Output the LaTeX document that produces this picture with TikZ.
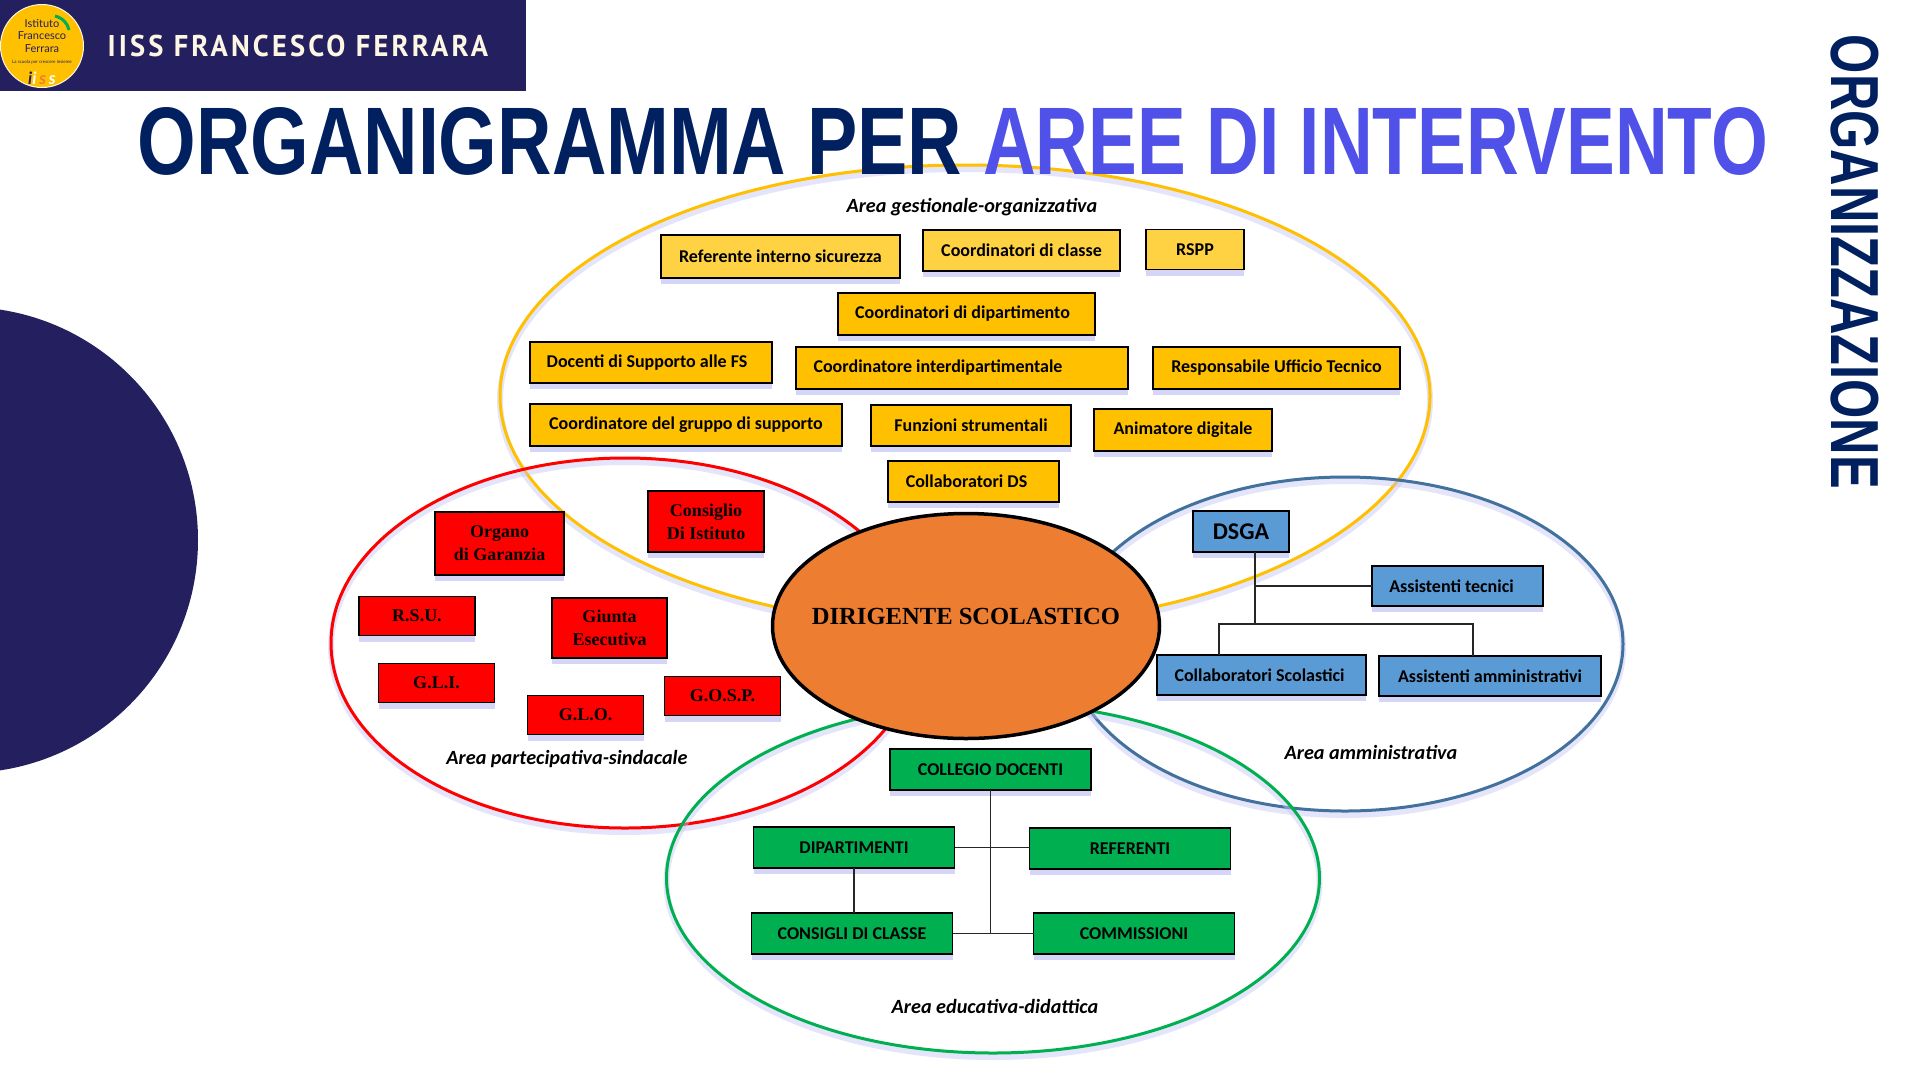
\documentclass[tikz,border=0pt]{standalone}
\usepackage{fontspec}
\setmainfont{Carlito}
\newfontfamily\serifface{Liberation Serif}
\newfontfamily\titleface[FakeStretch=0.785]{Liberation Sans}
\newfontfamily\titleblueface[FakeStretch=0.761]{Liberation Sans}
\newfontfamily\sideface[FakeStretch=0.742]{Liberation Sans}
\newfontfamily\headface[FakeStretch=0.95,LetterSpace=10.5]{PT Sans}
\newfontfamily\logoface{Lato}
\usetikzlibrary{positioning, shapes.geometric, shadows}
\definecolor{headnavy}{HTML}{241F5F}
\definecolor{titlenavy}{HTML}{002060}
\definecolor{titleblue}{HTML}{4F51E8}
\definecolor{gold}{HTML}{FFC000}
\definecolor{palegold}{HTML}{FFD243}
\definecolor{skyblue}{HTML}{5B9BD5}
\definecolor{steelline}{HTML}{41719C}
\definecolor{leaf}{HTML}{00B050}
\definecolor{dirorange}{HTML}{ED7D31}
\definecolor{glow}{HTML}{C4C6F4}
\definecolor{cream}{HTML}{FDF6E3}
\begin{document}
\begin{tikzpicture}[
  x=1pt, y=-1pt,
  font=\fontsize{18}{20}\selectfont\bfseries,
  node distance=20pt,
  arealoop/.style={draw, ellipse, line width=3pt, inner sep=0pt, preaction={draw=glow, line width=6pt, opacity=.45, transform canvas={yshift=-4pt}}},
  arealabel/.style={font=\fontsize{20.2}{22}\selectfont\bfseries\itshape},
  card/.style={draw=black, line width=1.6pt, inner sep=0pt, outer sep=0pt, align=center, drop shadow={shadow xshift=0pt, shadow yshift=-6pt, fill=glow, opacity=.7}},
  boxsize/.style 2 args={minimum width=#1pt, minimum height=#2pt},
  goldcard/.style={card, fill=gold},
  palecard/.style={card, fill=palegold},
  redcard/.style={card, fill=red, boxsize={116}{39}, font=\fontsize{18}{23}\selectfont\serifface\bfseries},
  bluecard/.style={card, fill=skyblue},
  greencard/.style={card, fill=leaf, boxsize={201}{41}},
  link/.style={draw=black!85, line width=1.6pt}
]
\clip (0,0) rectangle (1920,1080);
\useasboundingbox (0,0) rectangle (1920,1080);
\fill[white] (0,0) rectangle (1920,1080);

\node[circle, fill=headnavy, minimum size=466pt, inner sep=0pt] (disc) at (-35,540) {};
\node[fill=headnavy, minimum width=526pt, minimum height=91pt, inner sep=0pt, anchor=north west] (banner) at (0,0) {};
\node[circle, fill=gold, draw=cream, line width=1pt, minimum size=83pt, inner sep=0pt] (logo) at (42,46) {};
\node[font=\fontsize{11}{12.5}\selectfont\logoface, align=center, text=headnavy] (logotext) at (42,36) {Istituto\\Francesco\\Ferrara};
\node[font=\fontsize{4.5}{5}\selectfont\logoface, text=headnavy, below=1pt of logotext] (logomotto) {La scuola per crescere insieme};
\node[font=\fontsize{17}{17}\selectfont\logoface\bfseries\itshape, below=0pt of logomotto] (logomark) {\textcolor{headnavy}{i}\textcolor{white}{i}\,\textcolor{dirorange}{s}\,\textcolor{white}{s}};
\draw[leaf, line width=3pt] (55,16) .. controls (63,18) and (68,24) .. (69,30);
\node[font=\fontsize{30}{34}\selectfont\headface\bfseries, text=cream, anchor=west] (school) at (104,46) {IISS FRANCESCO FERRARA};

\node[arealoop, draw=gold, minimum width=930pt, minimum height=462pt] (gestionale) at (965,396) {};
\node[arealoop, draw=red, minimum width=588pt, minimum height=370pt] (partecipativa) at (625,643) {};
\node[arealoop, draw=steelline, minimum width=556pt, minimum height=334pt] (amministrativa) at (1345,644) {};
\node[arealoop, draw=leaf, minimum width=653pt, minimum height=350pt] (educativa) at (993,878) {};

\node[font=\fontsize{96}{100}\selectfont\titleface\bfseries, text=titlenavy, anchor=west] (title) at (134,141) {ORGANIGRAMMA PER \textcolor{titleblue}{\titleblueface\bfseries AREE DI INTERVENTO}};
\node[font=\fontsize{68}{72}\selectfont\sideface\bfseries, text=titlenavy, rotate=-90] (section) at (1855,262) {ORGANIZZAZIONE};

\node[draw=black, line width=3.5pt, ellipse, fill=dirorange, minimum width=387pt, minimum height=225pt, inner sep=0pt, label={[font=\fontsize{24.6}{28}\selectfont\serifface\bfseries, yshift=10pt]center:DIRIGENTE SCOLASTICO}] (dirigente) at (966,626) {};

\node[arealabel] (gestlabel) at (972,207) {Area gestionale-organizzativa};
\node[arealabel] (partlabel) at (567,759) {Area partecipativa-sindacale};
\node[arealabel] (ammlabel) at (1371,752) {Area amministrativa};
\node[arealabel] (edulabel) at (995,1006) {Area educativa-didattica};

\node[palecard, boxsize={239}{43}] (referente) at (780.5,256.5) {Referente interno sicurezza};
\node[palecard, boxsize={197}{41}, right=23pt of referente, yshift=6pt] (classe) {Coordinatori di classe};
\node[palecard, boxsize={98}{40}, right=26pt of classe, yshift=1pt] (rspp) {RSPP};
\node[goldcard, boxsize={257}{42}] (dipartimento) at (966.5,314) {Coordinatori di dipartimento\hspace*{8pt}};
\node[goldcard, boxsize={332}{42}, below=12pt of dipartimento, xshift=-4.5pt] (interdip) {Coordinatore interdipartimentale\hspace*{48pt}};
\node[goldcard, boxsize={242}{41}, left=24pt of interdip, yshift=5.5pt] (docenti) {Docenti di Supporto alle FS\hspace*{8pt}};
\node[goldcard, boxsize={247}{42}, right=25pt of interdip] (tecnico) {Responsabile Ufficio Tecnico};
\node[goldcard, boxsize={200}{41}, below=16pt of interdip, xshift=9pt] (funzioni) {Funzioni strumentali};
\node[goldcard, boxsize={312}{42}, left=29pt of funzioni, yshift=0.5pt] (gruppo) {Coordinatore del gruppo di supporto};
\node[goldcard, boxsize={178}{42}, right=23pt of funzioni, yshift=-4.5pt] (animatore) {Animatore digitale};
\node[goldcard, boxsize={171}{41}, below=15pt of funzioni, xshift=2.5pt] (collabds) {Collaboratori DS\hspace*{14pt}};

\node[redcard, boxsize={116}{61}] (consiglio) at (706,521.5) {Consiglio\\Di Istituto};
\node[redcard, boxsize={129}{63}, left=84pt of consiglio, yshift=-22pt] (organo) {Organo\\di Garanzia};
\node[redcard, boxsize={115}{60}, below=46pt of consiglio, xshift=-96.5pt] (giunta) {Giunta\\Esecutiva};
\node[redcard, left=77pt of giunta, yshift=12pt] (rsu) {R.S.U.};
\node[redcard, below=28pt of rsu, xshift=19.5pt] (gli) {G.L.I.};
\node[redcard, right=33pt of gli, yshift=-32pt] (glo) {G.L.O.};
\node[redcard, right=21pt of glo, yshift=19pt] (gosp) {G.O.S.P.};

\node[bluecard, boxsize={96}{41}, font=\fontsize{24}{28}\selectfont\bfseries] (dsga) at (1241,531.5) {DSGA};
\node[bluecard, boxsize={171}{40}, right=83pt of dsga, yshift=-54.5pt] (tecnici) {Assistenti tecnici\hspace*{12pt}};
\node[bluecard, boxsize={209}{40}] (scolastici) at (1261.5,675) {Collaboratori Scolastici\hspace*{4pt}};
\node[bluecard, boxsize={222}{40}, right=13pt of scolastici, yshift=-1pt] (amministrativi) {Assistenti amministrativi};
\coordinate (dsgabus) at (1255,624);
\coordinate (dsgatap) at (dsgabus |- tecnici.west);
\coordinate (scolfoot) at (1219,624);
\coordinate (ammfoot) at (1473,624);
\draw[link] (dsga.south -| dsgabus) -- (dsgabus);
\draw[link] (dsgatap) -- (tecnici.west);
\draw[link] (scolastici.north -| scolfoot) |- (ammfoot) -- (amministrativi.north -| ammfoot);

\node[greencard] (collegio) at (990.5,769.5) {COLLEGIO DOCENTI};
\node[greencard, below=37pt of collegio, xshift=-136.5pt] (dipartimenti) {DIPARTIMENTI};
\node[greencard, right=75pt of dipartimenti, yshift=-1pt] (referenti) {REFERENTI};
\node[greencard, below=45pt of dipartimenti, xshift=-2pt] (consigli) {CONSIGLI DI CLASSE};
\node[greencard, right=81pt of consigli] (commissioni) {COMMISSIONI};
\draw[link] (collegio.south) -- (collegio.south |- consigli.east);
\draw[link] (dipartimenti.east) -- (dipartimenti.east -| referenti.west);
\draw[link] (consigli.east) -- (commissioni.west);
\draw[link] (dipartimenti.south) -- (dipartimenti.south |- consigli.north);
\end{tikzpicture}
\end{document}
